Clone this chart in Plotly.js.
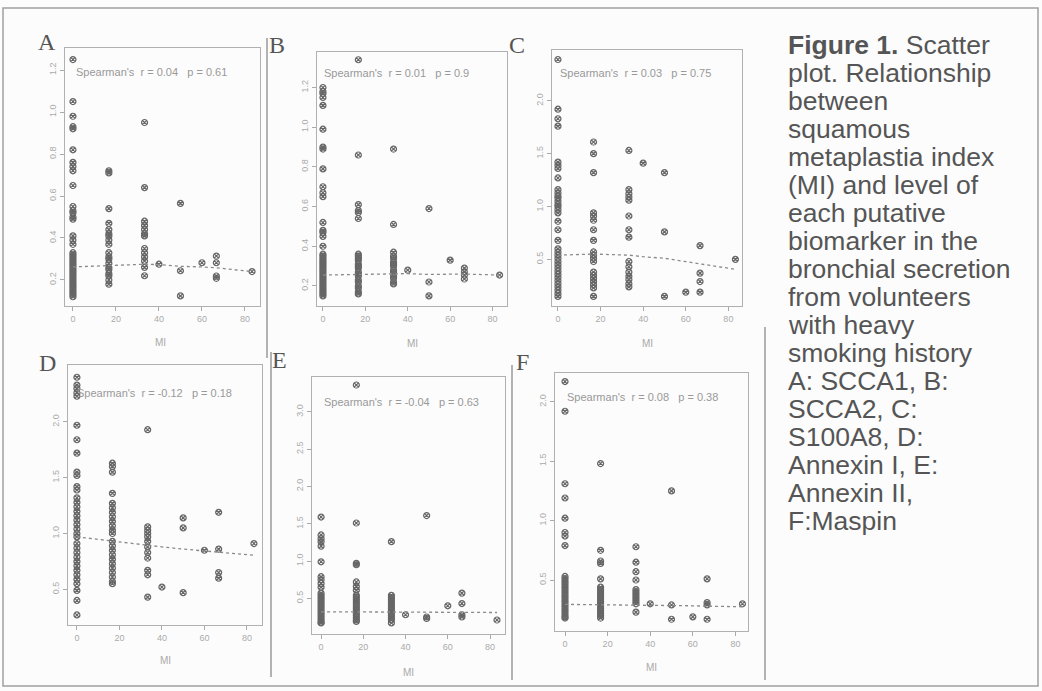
<!DOCTYPE html>
<html><head><meta charset="utf-8">
<script src="https://cdn.plot.ly/plotly-3.0.1.min.js"></script>
<style>html,body{margin:0;padding:0;background:#fcfcfc;}#chart{width:1042px;height:691px;}</style>
</head><body><div id="chart"></div>
<script>
// ---------- DATA ----------
const miLevels = [0, 16.7, 33.3, 40, 50, 60, 66.7, 83.3];
const xTicks = [0, 20, 40, 60, 80];

// one array per MI level, per biomarker
const scca1 = [
  [1.25,1.05,0.98,0.93,0.92,0.82,0.76,0.74,0.72,0.65,0.55,0.53,0.52,0.50,0.49,0.41,0.39,0.37,0.33,0.32,0.31,0.30,0.29,0.28,0.27,0.26,0.25,0.24,0.23,0.22,0.21,0.20,0.19,0.18,0.17,0.16,0.15,0.14,0.13,0.12],
  [0.72,0.71,0.54,0.47,0.44,0.42,0.41,0.39,0.37,0.33,0.31,0.30,0.28,0.26,0.25,0.23,0.22,0.20,0.18],
  [0.95,0.64,0.48,0.46,0.44,0.42,0.41,0.35,0.33,0.31,0.29,0.26,0.22],
  [0.275],
  [0.565,0.244,0.124],
  [0.282],
  [0.314,0.282,0.219,0.208],
  [0.24]
];
const scca2 = [
  [1.20,1.18,1.17,1.15,1.11,0.99,0.90,0.89,0.79,0.70,0.67,0.65,0.52,0.48,0.47,0.45,0.40,0.36,0.35,0.34,0.33,0.32,0.31,0.30,0.29,0.28,0.27,0.26,0.25,0.24,0.23,0.22,0.21,0.20,0.19,0.18,0.17,0.16,0.15],
  [1.34,0.86,0.61,0.58,0.57,0.54,0.36,0.35,0.34,0.33,0.31,0.30,0.29,0.27,0.26,0.25,0.23,0.22,0.20,0.19,0.17,0.16],
  [0.89,0.51,0.37,0.35,0.34,0.32,0.31,0.30,0.28,0.27,0.25,0.24,0.22,0.21],
  [0.28],
  [0.59,0.22,0.15],
  [0.33],
  [0.29,0.27,0.255,0.235],
  [0.255]
];
const s100a8 = [
  [2.39,1.92,1.83,1.76,1.42,1.39,1.36,1.27,1.16,1.13,1.10,1.08,1.05,1.02,1.00,0.97,0.94,0.86,0.78,0.68,0.60,0.57,0.54,0.51,0.48,0.45,0.42,0.39,0.36,0.33,0.30,0.27,0.24,0.21,0.18,0.15],
  [1.61,1.50,1.32,0.94,0.91,0.87,0.78,0.68,0.57,0.54,0.51,0.48,0.38,0.35,0.32,0.29,0.26,0.23,0.15],
  [1.53,1.16,1.12,1.09,1.06,0.91,0.78,0.71,0.48,0.43,0.38,0.34,0.31,0.27,0.24],
  [1.41],
  [1.32,0.76,0.15],
  [0.19],
  [0.63,0.37,0.29,0.19],
  [0.50]
];
const annexin1 = [
  [2.40,2.33,2.30,2.26,2.23,1.97,1.84,1.72,1.55,1.52,1.42,1.39,1.32,1.28,1.24,1.20,1.16,1.12,1.08,1.04,1.00,0.97,0.91,0.87,0.83,0.79,0.75,0.71,0.67,0.63,0.59,0.55,0.49,0.40,0.27],
  [1.63,1.60,1.55,1.36,1.27,1.23,1.19,1.15,1.11,1.07,1.03,1.00,0.93,0.89,0.85,0.81,0.77,0.73,0.69,0.65,0.61,0.57,0.55],
  [1.93,1.06,1.03,1.00,0.97,0.93,0.88,0.83,0.78,0.67,0.63,0.43],
  [0.52],
  [1.14,1.05,0.47],
  [0.85],
  [1.19,0.86,0.65,0.60],
  [0.91]
];
const annexin2 = [
  [1.59,1.35,1.30,1.26,1.20,0.99,0.79,0.75,0.70,0.65,0.57,0.54,0.51,0.48,0.45,0.42,0.39,0.36,0.33,0.30,0.27,0.24,0.21,0.18,0.17],
  [3.36,1.51,0.97,0.95,0.72,0.66,0.61,0.54,0.51,0.48,0.45,0.42,0.39,0.36,0.33,0.30,0.27,0.24,0.21,0.19],
  [1.26,0.54,0.51,0.48,0.45,0.42,0.39,0.36,0.33,0.30,0.27,0.24,0.21,0.17],
  [0.28],
  [1.61,0.25,0.23],
  [0.40],
  [0.57,0.43,0.28,0.25],
  [0.21]
];
const maspin = [
  [2.17,1.92,1.31,1.19,1.02,0.90,0.87,0.79,0.53,0.51,0.49,0.47,0.45,0.43,0.41,0.39,0.37,0.35,0.33,0.31,0.29,0.27,0.25,0.23,0.21,0.19,0.18],
  [1.48,0.75,0.66,0.64,0.51,0.44,0.42,0.40,0.38,0.36,0.34,0.32,0.30,0.28,0.26,0.24,0.22,0.20,0.18],
  [0.78,0.65,0.57,0.50,0.42,0.40,0.38,0.36,0.34,0.32,0.30,0.23],
  [0.30],
  [1.25,0.29,0.17],
  [0.19],
  [0.51,0.31,0.29,0.17],
  [0.30]
];

// smoothed fit lines (value at each MI level)
const fitSCCA1 = [0.262,0.27,0.275,0.273,0.265,0.262,0.258,0.24];
const fitSCCA2 = [0.255,0.258,0.262,0.262,0.258,0.258,0.26,0.255];
const fitS100A8 = [0.54,0.55,0.54,0.525,0.51,0.478,0.456,0.406];
const fitAnnexin1 = [0.97,0.93,0.896,0.88,0.86,0.843,0.836,0.806];
const fitAnnexin2 = [0.32,0.32,0.32,0.318,0.317,0.316,0.315,0.31];
const fitMaspin = [0.295,0.293,0.29,0.289,0.287,0.283,0.28,0.275];

const panelLetters = ["A","B","C","D","E","F"];
const spearmanText = [
  "Spearman's  r = 0.04   p = 0.61",
  "Spearman's  r = 0.01   p = 0.9",
  "Spearman's  r = 0.03   p = 0.75",
  "Spearman's  r = -0.12   p = 0.18",
  "Spearman's  r = -0.04   p = 0.63",
  "Spearman's  r = 0.08   p = 0.38"
];
const yTicksA = [0.2,0.4,0.6,0.8,1.0,1.2];
const yTicksB = [0.2,0.4,0.6,0.8,1.0,1.2];
const yTicksC = [0.5,1.0,1.5,2.0];
const yTicksD = [0.5,1.0,1.5,2.0];
const yTicksE = [0.5,1.0,1.5,2.0,2.5,3.0];
const yTicksF = [0.5,1.0,1.5,2.0];
const xTitle = "MI";
const captionLines = [
  "<b>Figure 1.</b> Scatter",
  "plot. Relationship",
  "between",
  "squamous",
  "metaplastia index",
  "(MI) and level of",
  "each putative",
  "biomarker in the",
  "bronchial secretion",
  "from volunteers",
  "with heavy",
  "smoking history",
  "A: SCCA1, B:",
  "SCCA2, C:",
  "S100A8, D:",
  "Annexin I, E:",
  "Annexin II,",
  "F:Maspin"
];

// ---------- LAYOUT (pixels) ----------
const W = 1042, H = 691;
const fx = p => p / W;
const fy = p => 1 - p / H;
const panelData = [scca1, scca2, s100a8, annexin1, annexin2, maspin];
const panelFits = [fitSCCA1, fitSCCA2, fitS100A8, fitAnnexin1, fitAnnexin2, fitMaspin];
const panelYTicks = [yTicksA, yTicksB, yTicksC, yTicksD, yTicksE, yTicksF];
const geom = [
  {frame:[65,260,48,306],  xr:[-3.7,87.0], yr:[0.076,1.305], lab:[47,42],  sp:[74,72],   mi:[160,342]},
  {frame:[317,507,52,306], xr:[-2.8,86.8], yr:[0.099,1.379], lab:[277,45], sp:[322,73],  mi:[412,343]},
  {frame:[552,742,50,306], xr:[-2.8,86.4], yr:[0.059,2.48],  lab:[517,45], sp:[558,73],  mi:[647,343]},
  {frame:[68,262,365,625], xr:[-4.2,87.1], yr:[0.18,2.51],   lab:[47,363], sp:[75,393],  mi:[165,660]},
  {frame:[312,505,377,634],xr:[-4.3,87.1], yr:[0.022,3.467], lab:[279,360],sp:[322,402], mi:[408,672]},
  {frame:[555,748,373,631],xr:[-4.7,85.9], yr:[0.071,2.242], lab:[522,362],sp:[565,397], mi:[651,667]}
];

const traces = [];
const layout = {
  width: W, height: H,
  margin: {l:0, r:0, t:0, b:0},
  paper_bgcolor: '#fcfcfc', plot_bgcolor: '#fcfcfc',
  showlegend: false,
  font: {family: 'Liberation Sans, Arial, sans-serif', color: '#999'},
  annotations: [], shapes: []
};

panelData.forEach((cols, i) => {
  const n = i + 1;
  const xs = [], ys = [];
  cols.forEach((vals, j) => vals.forEach(v => { xs.push(miLevels[j]); ys.push(v); }));
  const xa = 'x' + (n === 1 ? '' : n), ya = 'y' + (n === 1 ? '' : n);
  traces.push({
    type: 'scatter', mode: 'markers', x: xs, y: ys, xaxis: xa, yaxis: ya,
    marker: {symbol: 'circle-x-open', size: 6, color: '#666', line: {width: 1.2, color: '#666'}},
    hoverinfo: 'skip'
  });
  traces.push({
    type: 'scatter', mode: 'lines', x: miLevels, y: panelFits[i], xaxis: xa, yaxis: ya,
    line: {color: '#8a8a8a', width: 1.3, dash: 'dot'}, hoverinfo: 'skip'
  });
  const g = geom[i];
  const axBase = {
    showline: true, mirror: true, linecolor: '#b0b0b0', linewidth: 1,
    ticks: 'outside', ticklen: 4, tickcolor: '#aaa', tickwidth: 1,
    showgrid: false, zeroline: false,
    tickfont: {size: 9, color: '#aaa', family: 'Liberation Sans, Arial, sans-serif'}
  };
  layout['xaxis' + (n === 1 ? '' : n)] = Object.assign({}, axBase, {
    domain: [fx(g.frame[0]), fx(g.frame[1])], anchor: ya, range: g.xr,
    tickvals: xTicks, ticktext: xTicks.map(String)
  });
  const yt = panelYTicks[i];
  layout['yaxis' + (n === 1 ? '' : n)] = Object.assign({}, axBase, {
    domain: [fy(g.frame[3]), fy(g.frame[2])], anchor: xa, range: g.yr,
    tickvals: yt, ticktext: yt.map(v => v.toFixed(1)), tickangle: -90
  });
  layout.annotations.push({
    xref: 'paper', yref: 'paper', x: fx(g.lab[0]), y: fy(g.lab[1]),
    text: panelLetters[i], showarrow: false, xanchor: 'center', yanchor: 'middle',
    font: {family: 'Liberation Serif, Times New Roman, serif', size: 24, color: '#555'}
  });
  layout.annotations.push({
    xref: 'paper', yref: 'paper', x: fx(g.sp[0]), y: fy(g.sp[1]),
    text: spearmanText[i].replace(/ /g, '\u00A0'), showarrow: false, xanchor: 'left', yanchor: 'middle',
    font: {size: 11, color: '#999'}
  });
  layout.annotations.push({
    xref: 'paper', yref: 'paper', x: fx(g.mi[0]), y: fy(g.mi[1]),
    text: xTitle, showarrow: false, xanchor: 'center', yanchor: 'middle',
    font: {size: 10, color: '#aaa'}
  });
});

captionLines.forEach((t, i) => {
  layout.annotations.push({
    xref: 'paper', yref: 'paper', x: fx(786), y: fy(45 + i * 28),
    text: t, showarrow: false, xanchor: 'left', yanchor: 'middle',
    font: {family: 'Liberation Sans, Arial, sans-serif', size: 26.5, color: '#555'}
  });
});

const sep = (x0, y0, x1, y1, w) => ({
  type: 'line', xref: 'paper', yref: 'paper',
  x0: fx(x0), y0: fy(y0), x1: fx(x1), y1: fy(y1),
  line: {color: '#9a9a9a', width: w || 1.5}
});
layout.shapes.push({type: 'rect', xref: 'paper', yref: 'paper',
  x0: fx(3), x1: fx(1038), y0: fy(686), y1: fy(8), line: {color: '#a0a0a0', width: 1.5}});
layout.shapes.push(sep(267, 38, 267, 358));
layout.shapes.push(sep(271, 352, 271, 677));
layout.shapes.push(sep(512, 365, 512, 680));
layout.shapes.push(sep(765, 327, 765, 680));

Plotly.newPlot('chart', traces, layout, {displayModeBar: false, staticPlot: true});
</script>
</body></html>
